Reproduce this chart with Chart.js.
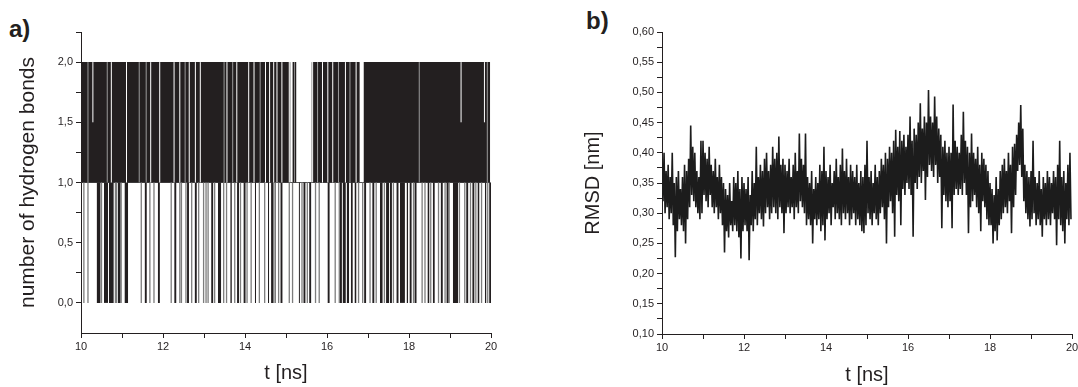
<!DOCTYPE html>
<html>
<head>
<meta charset="utf-8">
<script src="https://cdn.jsdelivr.net/npm/chart.js@4.4.0/dist/chart.umd.min.js"></script>
<style>
  html, body { margin: 0; padding: 0; background: #fff; overflow: hidden; }
  body { width: 1078px; height: 387px; position: relative; font-family: "Liberation Sans", Arial, sans-serif; color: #231f20; }
  .panel { position: absolute; top: 0; height: 387px; }
  #wrapA { left: 0; width: 540px; }
  #wrapB { left: 540px; width: 560px; }
  .tag { position: absolute; font-weight: bold; font-size: 24px; line-height: 28px; }
</style>
</head>
<body>
<div class="tag" style="left:9px; top:15px;">a)</div>
<div class="tag" style="left:586px; top:7px;">b)</div>
<div class="panel" id="wrapA"><canvas id="chartA"></canvas></div>
<div class="panel" id="wrapB"><canvas id="chartB"></canvas></div>
<script>
// --- shared axis ticks ---
const timeTicks = [10, 11, 12, 13, 14, 15, 16, 17, 18, 19, 20];
const hbYTicks = [0, 0.25, 0.5, 0.75, 1, 1.25, 1.5, 1.75, 2, 2.25];
const rmsdYTicks = [0.1, 0.125, 0.15, 0.175, 0.2, 0.225, 0.25, 0.275, 0.3, 0.325, 0.35, 0.375,
                    0.4, 0.425, 0.45, 0.475, 0.5, 0.525, 0.55, 0.575, 0.6];

// --- a) hydrogen bonds: spans where the count flips fast, and single switches ---
const hbBandSpans = [[10.0, 15.07], [15.66, 16.80], [16.89, 19.98]];
const hbBandWhite = [10.74, 11.11, 11.70, 11.92, 12.27, 12.41, 12.64, 12.79, 12.91, 13.56, 13.80,
                     14.09, 14.22, 14.50, 14.60, 14.70, 14.78, 14.90, 15.89, 16.02, 16.14, 16.45, 16.71];
const hbBandGray = [10.17, 10.64, 11.42, 11.59, 12.54, 13.49, 13.70, 14.37, 15.10, 15.63, 15.77,
                    16.28, 16.56, 18.25, 19.91];
const hbBandLone = [15.18, 15.23];
const hbNotches = [10.29, 19.27, 19.84];
const hbDipSpans = [[10.56, 10.66], [10.68, 10.80], [10.90, 10.97], [11.06, 11.15],
                    [13.34, 13.42], [13.64, 13.68], [14.24, 14.27], [14.56, 14.59],
                    [15.31, 15.34], [16.38, 16.46], [16.48, 16.54], [16.58, 16.63], [16.67, 16.72],
                    [17.29, 17.36], [17.44, 17.52], [17.78, 17.90], [17.94, 17.98],
                    [18.45, 18.50], [18.58, 18.63], [19.07, 19.20], [19.67, 19.72], [19.85, 19.89]];
const hbDipBlack = [10.41, 10.45, 11.58, 11.90, 12.30, 12.61, 12.80, 13.20, 13.83, 13.99,
                    14.66, 14.89, 15.45, 15.59, 16.04, 16.34, 16.93, 17.13, 17.56, 17.72,
                    18.04, 18.16, 18.80, 18.94, 19.42, 19.57, 19.98];
const hbDipGray = [10.07, 10.17, 10.50, 10.84, 10.87, 10.98, 11.47, 11.68, 11.78, 12.20, 12.41,
                   12.45, 12.56, 12.70, 12.87, 12.99, 13.05, 13.10, 13.26, 13.48, 13.55, 13.75,
                   13.89, 14.05, 14.15, 14.35, 14.48, 14.70, 14.74, 14.82, 15.08, 15.16, 15.39,
                   15.52, 15.72, 15.81, 16.20, 16.30, 16.77, 16.87, 17.05, 17.20, 17.40,
                   17.62, 18.11, 18.32, 18.39, 18.53, 18.72, 18.88, 18.98, 19.23, 19.36,
                   19.50, 19.63, 19.77, 19.92];

// --- b) RMSD: local high / low in every 0.05 ns window, 10.00 .. 19.95 ns ---
const rmsdStart = 10, rmsdStep = 0.05;
const rmsdHigh = [
  0.39,0.40,0.37,0.38,0.36,0.40,0.35,0.36,0.37,0.34,0.36,0.38,0.37,0.39,0.445,0.41,0.40,0.37,0.36,0.42,
  0.42,0.40,0.39,0.41,0.38,0.37,0.39,0.36,0.38,0.36,0.35,0.34,0.33,0.35,0.32,0.36,0.35,0.37,0.34,0.36,
  0.35,0.34,0.36,0.33,0.37,0.35,0.41,0.36,0.38,0.37,0.39,0.40,0.37,0.38,0.41,0.39,0.40,0.427,0.38,0.39,
  0.38,0.37,0.39,0.36,0.38,0.40,0.37,0.432,0.39,0.38,0.432,0.36,0.35,0.37,0.34,0.36,0.35,0.38,0.37,0.41,
  0.37,0.36,0.38,0.35,0.37,0.39,0.36,0.38,0.407,0.37,0.39,0.36,0.38,0.37,0.36,0.38,0.35,0.37,0.36,0.38,
  0.42,0.36,0.37,0.35,0.38,0.36,0.37,0.39,0.38,0.40,0.39,0.41,0.40,0.42,0.438,0.41,0.436,0.42,0.43,0.41,
  0.43,0.46,0.42,0.44,0.43,0.45,0.482,0.44,0.46,0.45,0.504,0.46,0.45,0.493,0.46,0.44,0.43,0.41,0.42,0.40,
  0.41,0.40,0.48,0.42,0.41,0.40,0.43,0.468,0.42,0.41,0.40,0.432,0.40,0.39,0.41,0.38,0.40,0.39,0.38,0.37,
  0.35,0.34,0.33,0.36,0.34,0.37,0.38,0.39,0.37,0.40,0.38,0.41,0.415,0.43,0.45,0.479,0.44,0.38,0.37,0.36,
  0.37,0.42,0.36,0.35,0.37,0.34,0.36,0.35,0.37,0.36,0.35,0.37,0.36,0.38,0.42,0.36,0.37,0.35,0.38,0.40
];
const rmsdLow = [
  0.32,0.30,0.31,0.29,0.30,0.28,0.227,0.27,0.29,0.28,0.27,0.25,0.29,0.31,0.33,0.32,0.31,0.30,0.29,0.30,
  0.33,0.32,0.31,0.33,0.31,0.30,0.31,0.29,0.30,0.28,0.235,0.27,0.26,0.28,0.27,0.28,0.27,0.26,0.225,0.27,
  0.28,0.27,0.222,0.28,0.27,0.29,0.28,0.30,0.29,0.278,0.30,0.31,0.29,0.30,0.31,0.30,0.29,0.31,0.30,0.267,
  0.30,0.31,0.30,0.31,0.29,0.31,0.30,0.32,0.31,0.30,0.28,0.29,0.28,0.25,0.29,0.28,0.29,0.27,0.28,0.255,
  0.29,0.30,0.28,0.31,0.29,0.30,0.29,0.28,0.30,0.29,0.30,0.28,0.29,0.30,0.28,0.29,0.28,0.27,0.267,0.28,
  0.30,0.29,0.28,0.30,0.29,0.28,0.30,0.31,0.29,0.25,0.31,0.32,0.30,0.261,0.33,0.32,0.28,0.34,0.33,0.35,
  0.34,0.33,0.261,0.35,0.34,0.36,0.35,0.37,0.322,0.36,0.38,0.37,0.36,0.38,0.35,0.36,0.275,0.33,0.32,0.31,
  0.32,0.275,0.33,0.34,0.33,0.34,0.33,0.35,0.33,0.267,0.31,0.32,0.33,0.31,0.30,0.27,0.32,0.31,0.29,0.28,
  0.28,0.25,0.27,0.255,0.28,0.29,0.30,0.31,0.30,0.32,0.267,0.31,0.33,0.37,0.38,0.36,0.32,0.30,0.29,0.278,
  0.29,0.30,0.28,0.29,0.28,0.261,0.29,0.28,0.29,0.28,0.30,0.29,0.247,0.29,0.28,0.27,0.25,0.29,0.28,0.29
];

// --- styles ---
const ink = '#231f20';
const fontFamily = '"Liberation Sans", Arial, sans-serif';
const tickFont = { family: fontFamily, size: 11 };

// --- helpers to turn the lists into line data ---
function vlines(times, lo, hi) {
  return times.flatMap(t => [{ x: t, y: lo }, { x: t, y: hi }, { x: t, y: null }]);
}
function spans(list, y) {
  return list.flatMap(([a, b]) => [{ x: a, y: y }, { x: b, y: y }, { x: b, y: null }]);
}
function lineSet(data, color, width, order) {
  return { data, borderColor: color, borderWidth: width, pointRadius: 0, fill: false,
           spanGaps: false, tension: 0, order };
}
function fillSet(data, base, order) {
  return { data, borderColor: 'rgba(0,0,0,0)', borderWidth: 0, backgroundColor: ink,
           pointRadius: 0, fill: { value: base }, spanGaps: false, tension: 0, order };
}

function xAxis(height, titlePad) {
  return {
    type: 'linear', min: 10, max: 20,
    afterBuildTicks: s => { s.ticks = timeTicks.map(v => ({ value: v })); },
    afterFit: s => { s.height = height; },
    ticks: { callback: v => (v % 2 === 0 ? String(v) : ''), font: tickFont, color: ink,
             padding: 2, maxRotation: 0, autoSkip: false },
    grid: { drawOnChartArea: false, drawTicks: true, tickLength: 5, tickColor: ink },
    border: { display: true, color: ink, width: 1 },
    title: { display: true, text: 't [ns]', font: { family: fontFamily, size: 20 }, color: ink,
             padding: { top: 0, bottom: titlePad } }
  };
}
function yAxis(min, max, tickList, label, titleSize, width, titlePad, isMajor, fmt) {
  return {
    type: 'linear', min, max,
    afterBuildTicks: s => { s.ticks = tickList.map(v => ({ value: v })); },
    afterFit: s => { s.width = width; },
    ticks: { callback: v => (isMajor(v) ? fmt(v) : ''), font: tickFont, color: ink, padding: 3, autoSkip: false },
    grid: { drawOnChartArea: false, drawTicks: true, tickLength: 5, tickColor: ink },
    border: { display: true, color: ink, width: 1 },
    title: { display: true, text: label, font: { family: fontFamily, size: titleSize }, color: ink,
             padding: { top: titlePad, bottom: 0 } }
  };
}

const baseOptions = {
  responsive: true,
  maintainAspectRatio: false,
  animation: false,
  events: [],
  plugins: { legend: { display: false }, tooltip: { enabled: false } }
};

// --- a) ---
new Chart(document.getElementById('chartA'), {
  type: 'line',
  data: {
    datasets: [
      lineSet([{ x: 10, y: 1 }, { x: 19.98, y: 1 }], '#555', 1, 9),
      fillSet(spans(hbBandSpans, 2), 1, 8),
      fillSet(spans(hbDipSpans, 1), 0, 8),
      lineSet(vlines(hbDipGray, 0, 1), '#7d7d7d', 1.3, 6),
      lineSet(vlines(hbDipBlack, 0, 1), ink, 1.9, 5),
      lineSet(vlines(hbBandWhite, 1, 2), '#ffffff', 1, 3),
      lineSet(vlines(hbBandGray, 1, 2), '#9a9a9a', 1, 2),
      lineSet(vlines(hbBandLone, 1, 2), ink, 1.6, 2),
      lineSet(vlines(hbNotches, 1.5, 2), '#ffffff', 1, 2)
    ]
  },
  options: Object.assign({}, baseOptions, {
    layout: { padding: { top: 32, right: 49, bottom: 0, left: 0 } },
    scales: {
      x: xAxis(54, 2),
      y: yAxis(-0.25, 2.25, hbYTicks, 'number of hydrogen bonds', 21, 81, 16,
               v => Math.round(v * 100) % 50 === 0,
               v => v.toFixed(1).replace('.', ','))
    }
  })
});

// --- b) ---
const rmsdPoints = rmsdHigh.flatMap((h, i) => [
  { x: rmsdStart + i * rmsdStep, y: h },
  { x: rmsdStart + i * rmsdStep + rmsdStep / 2, y: rmsdLow[i] }
]);

new Chart(document.getElementById('chartB'), {
  type: 'line',
  data: { datasets: [lineSet(rmsdPoints, '#1c1c1c', 1.6, 1)] },
  options: Object.assign({}, baseOptions, {
    layout: { padding: { top: 32, right: 28, bottom: 0, left: 0 } },
    scales: {
      x: xAxis(53, 0),
      y: yAxis(0.1, 0.6, rmsdYTicks, 'RMSD [nm]', 20, 122, 41,
               v => Math.round(v * 1000) % 50 === 0,
               v => v.toFixed(2).replace('.', ','))
    }
  })
});
</script>
</body>
</html>
